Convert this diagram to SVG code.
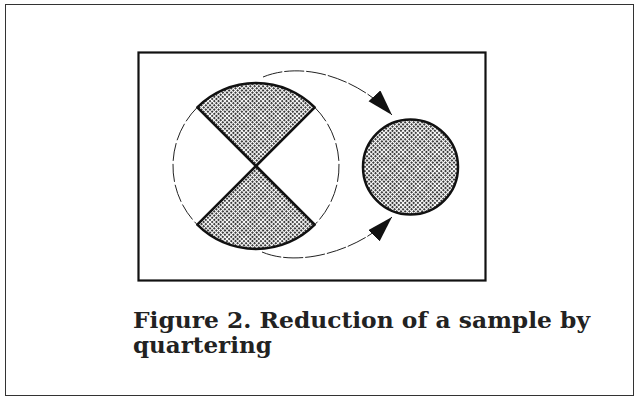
<svg xmlns="http://www.w3.org/2000/svg" width="639" height="400" viewBox="0 0 639 400">
<style>
.frame{fill:none;stroke:#333;stroke-width:1}
.box{fill:none;stroke:#111;stroke-width:2.2}
.shade{fill:url(#dots);stroke:#111;stroke-width:2.5;stroke-linejoin:round}
.thin{fill:none;stroke:#222;stroke-width:1;stroke-dasharray:18 3}
.conn{fill:none;stroke:#222;stroke-width:1;stroke-dasharray:20 2}
.cap{font-family:"DejaVu Serif","Liberation Serif",serif;font-weight:bold;font-size:23px;fill:#222}
</style>
<defs>
<pattern id="dots" width="3" height="3" patternUnits="userSpaceOnUse" patternTransform="rotate(45)">
<rect width="3" height="3" fill="#fff"/>
<rect x="0" y="0" width="2" height="1.9" fill="#333"/>
</pattern>
<marker id="arr" markerUnits="userSpaceOnUse" markerWidth="30" markerHeight="18" refX="26" refY="8" orient="auto">
<path d="M0,0 L26,8 L0,16 Z" fill="#111"/>
</marker>
</defs>
<rect class="frame" x="5.5" y="4.5" width="628" height="391"/>
<rect class="box" x="138.5" y="52.5" width="347" height="228"/>
<g id="large-sample">
<path class="shade" d="M256,166 L197.3,107.3 A83,83 0 0 1 314.7,107.3 Z"/>
<path class="shade" d="M256,166 L314.7,224.7 A83,83 0 0 1 197.3,224.7 Z"/>
<path class="thin" d="M197.3,107.3 A83,83 0 0 0 197.3,224.7"/>
<path class="thin" d="M314.7,107.3 A83,83 0 0 1 314.7,224.7"/>
</g>
<g id="reduced-sample">
<circle class="shade" cx="410.5" cy="167" r="47.5"/>
</g>
<g id="connectors">
<path class="conn" d="M263,77 C305,60 360,80 392,115" marker-end="url(#arr)"/>
<path class="conn" d="M262,252 C300,268 360,250 392,217" marker-end="url(#arr)"/>
</g>
<g id="caption">
<text class="cap" x="133" y="328" textLength="457" lengthAdjust="spacingAndGlyphs">Figure 2. Reduction of a sample by</text>
<text class="cap" x="133" y="353">quartering</text>
</g>
</svg>
